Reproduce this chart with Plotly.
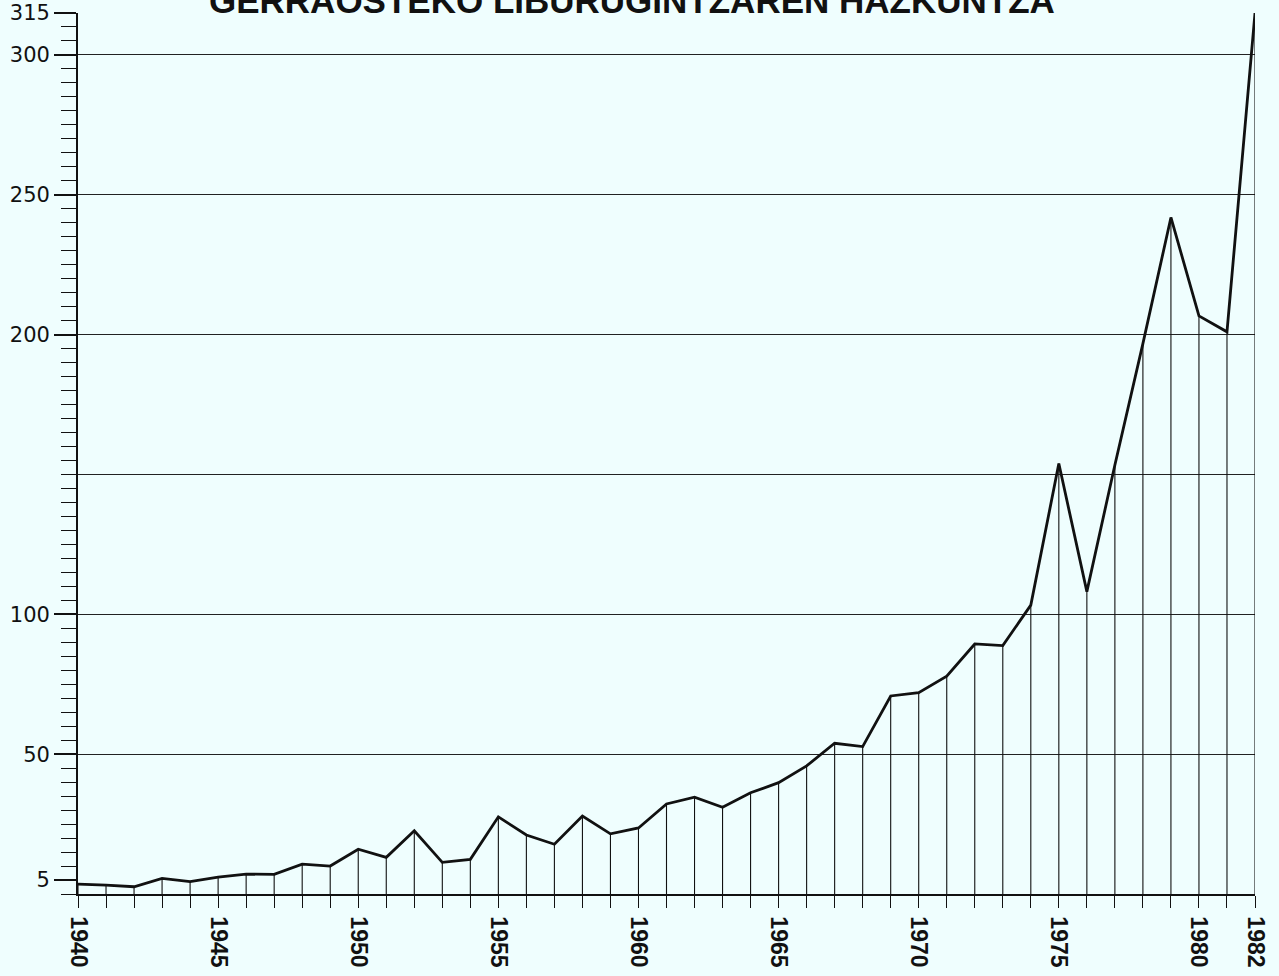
import plotly.graph_objects as go

# ---- data ----
years = list(range(1940, 1983))
titles_count = [3.5, 3.2, 2.6, 5.6, 4.4, 6.0, 7.1, 7.0, 10.7, 10.0,
                16.0, 13.1, 22.6, 11.3, 12.4, 27.6, 21.1, 17.8, 27.9, 21.5,
                23.6, 32.2, 34.6, 31.0, 36.2, 39.8, 45.8, 53.9, 52.7, 70.8,
                72.0, 77.9, 89.4, 88.8, 103.3, 153.9, 108.1, 153.4, 196.8, 241.9,
                206.7, 201.0, 315.0]

x_label_years = [1940, 1945, 1950, 1955, 1960, 1965, 1970, 1975, 1980, 1982]
x_ticktext = [str(y) if y in x_label_years else "" for y in years]

y_tickvals = [5, 50, 100, 150, 200, 250, 300, 315]
y_ticktext = ["5", "50", "100", "", "200", "250", "300", "315"]
y_minor = list(range(0, 320, 5))
grid_values = [50, 100, 150, 200, 250, 300]

title_text = "GERRAOSTEKO LIBURUGINTZAREN HAZKUNTZA"

BG = "#effefe"
INK = "#111111"

fig = go.Figure()

fig.add_trace(go.Scatter(
    x=years, y=titles_count, mode="lines",
    line=dict(color=INK, width=2.8),
    cliponaxis=False,
    error_y=dict(type="data", symmetric=False,
                 array=[0] * len(titles_count), arrayminus=titles_count,
                 width=0, thickness=1.1, color=INK),
    showlegend=False, hoverinfo="x+y",
))

# invisible trace to activate the grid axis
fig.add_trace(go.Scatter(x=[years[0]], y=[0], yaxis="y2", mode="markers",
                         marker=dict(opacity=0), showlegend=False, hoverinfo="skip"))

fig.update_layout(
    width=1279, height=976,
    margin=dict(l=78, r=24, t=13, b=82),
    paper_bgcolor=BG, plot_bgcolor=BG,
    font=dict(family="Liberation Sans, Arial, sans-serif", color=INK),
    xaxis=dict(
        range=[1940, 1982], tickmode="array", tickvals=years, ticktext=x_ticktext,
        tickangle=90, ticks="outside", ticklen=12, tickwidth=1.2, tickcolor=INK,
        tickfont=dict(size=23, family="Liberation Sans, Arial, sans-serif", weight="bold"),
        ticklabelstandoff=4,
        showline=True, linecolor=INK, linewidth=1.5,
        showgrid=False, zeroline=False, automargin=False,
    ),
    yaxis=dict(
        range=[0, 315], tickmode="array", tickvals=y_tickvals, ticktext=y_ticktext,
        ticks="outside", ticklen=22, tickwidth=1.6, tickcolor=INK,
        tickfont=dict(size=21, family="DejaVu Sans, sans-serif"),
        minor=dict(tickmode="array", tickvals=y_minor, ticks="outside",
                   ticklen=15, tickwidth=1.4, tickcolor=INK, showgrid=False),
        showline=True, linecolor=INK, linewidth=1.8,
        showgrid=False, zeroline=False, automargin=False,
    ),
    yaxis2=dict(
        range=[0, 315], overlaying="y", side="left", tickmode="array",
        tickvals=grid_values, showticklabels=False, ticks="",
        showgrid=True, gridcolor="#222222", gridwidth=1,
        zeroline=False, showline=False, automargin=False,
    ),
    annotations=[dict(
        text=title_text, xref="paper", yref="paper", x=0.4707, y=1,
        xanchor="center", yanchor="bottom", yshift=-9, showarrow=False,
        font=dict(size=35, family="Liberation Sans, Arial, sans-serif",
                  weight="bold", color=INK),
    )],
)

fig.write_html(
    "out.html",
    config={"displayModeBar": False},
    post_script="document.body.style.margin='0';document.body.style.background='" + BG + "';",
)
